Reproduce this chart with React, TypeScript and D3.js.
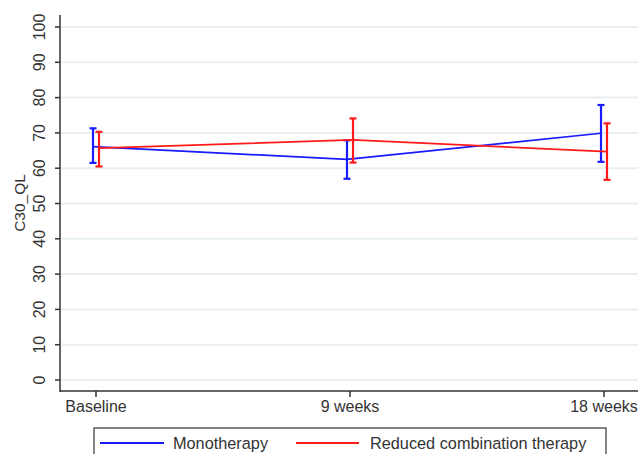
import React from "react";
import * as d3 from "d3";

const categories = ["Baseline", "9 weeks", "18 weeks"];
const yTicks = [0, 10, 20, 30, 40, 50, 60, 70, 80, 90, 100];

const monoMean = [66.1, 62.5, 69.9];
const monoLow = [61.5, 57.0, 61.8];
const monoHigh = [71.3, 67.9, 77.9];

const redMean = [65.7, 68.0, 64.7];
const redLow = [60.5, 61.6, 56.7];
const redHigh = [70.3, 74.1, 72.7];

const series = [
  { name: "Monotherapy", color: "#1a1aff", mean: monoMean, low: monoLow, high: monoHigh, dx: -3 },
  { name: "Reduced combination therapy", color: "#ff1a1a", mean: redMean, low: redLow, high: redHigh, dx: 3 },
];

const W = 638;
const H = 454;
const FONT = "'Liberation Sans', Arial, sans-serif";
const TEXT = "#333";

export default function App() {
  const x = d3.scaleLinear().domain([0, 2]).range([96, 604]);
  const y = d3.scaleLinear().domain([0, 100]).range([380, 27]);
  const axisX = 60;
  const axisY = 391;
  const capHalf = 3.5;

  return (
    <svg
      width={W}
      height={H}
      style={{ position: "absolute", left: 0, top: 0, background: "#fff" }}
      fontFamily={FONT}
    >
      <rect x={0} y={0} width={W} height={H} fill="#fff" />
      {yTicks.map((t) => (
        <line key={"g" + t} x1={axisX + 1} x2={W} y1={y(t)} y2={y(t)} stroke="#e7eff1" strokeWidth={2} />
      ))}
      <line x1={axisX} x2={axisX} y1={15} y2={axisY + 1} stroke="#333" strokeWidth={1.5} />
      {yTicks.map((t) => (
        <g key={"yt" + t}>
          <line x1={axisX - 5} x2={axisX} y1={y(t)} y2={y(t)} stroke="#333" strokeWidth={1.5} />
          <text
            transform={`translate(${44.5},${y(t)}) rotate(-90)`}
            textAnchor="middle"
            fontSize={16}
            fill={TEXT}
          >
            {t}
          </text>
        </g>
      ))}
      <text transform={`translate(${25},${203}) rotate(-90)`} textAnchor="middle" fontSize={15.5} fill={TEXT}>
        C30_QL
      </text>
      <line x1={axisX} x2={W} y1={axisY} y2={axisY} stroke="#333" strokeWidth={1.5} />
      {categories.map((c, i) => (
        <g key={"xt" + c}>
          <line x1={x(i)} x2={x(i)} y1={axisY} y2={axisY + 6} stroke="#333" strokeWidth={1.5} />
          <text x={x(i)} y={412} textAnchor="middle" fontSize={16} fill={TEXT}>
            {c}
          </text>
        </g>
      ))}
      {series.map((s) => {
        const line = d3
          .line<number>()
          .x((_, i) => x(i) + s.dx)
          .y((d) => y(d));
        return (
          <g key={s.name}>
            <path d={line(s.mean) || ""} fill="none" stroke={s.color} strokeWidth={1.7} />
            {s.mean.map((_, i) => {
              const cx = x(i) + s.dx;
              return (
                <g key={i} stroke={s.color} strokeWidth={2.2}>
                  <line x1={cx} x2={cx} y1={y(s.low[i])} y2={y(s.high[i])} />
                  <line x1={cx - capHalf} x2={cx + capHalf} y1={y(s.low[i])} y2={y(s.low[i])} />
                  <line x1={cx - capHalf} x2={cx + capHalf} y1={y(s.high[i])} y2={y(s.high[i])} />
                </g>
              );
            })}
          </g>
        );
      })}
      <rect x={94} y={428} width={512} height={40} fill="#fff" stroke="#333" strokeWidth={1.2} />
      <line x1={100} x2={164} y1={443} y2={443} stroke={series[0].color} strokeWidth={1.8} />
      <text x={173} y={449} fontSize={16.3} fill={TEXT}>
        {series[0].name}
      </text>
      <line x1={296} x2={359} y1={443} y2={443} stroke={series[1].color} strokeWidth={1.8} />
      <text x={370} y={449} fontSize={16.3} fill={TEXT}>
        {series[1].name}
      </text>
    </svg>
  );
}
